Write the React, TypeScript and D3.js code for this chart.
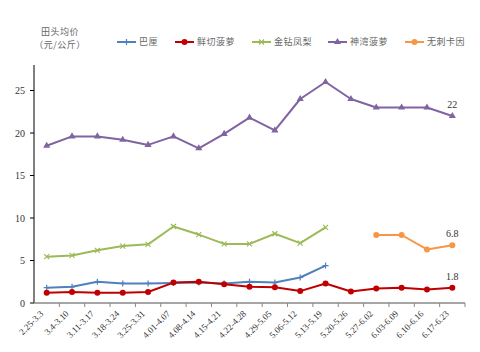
import React, { useRef, useEffect } from "react";
import * as d3 from "d3";

const width = 480;
const height = 352;

const categories = [
  "2.25-3.3", "3.4-3.10", "3.11-3.17", "3.18-3.24", "3.25-3.31", "4.01-4.07",
  "4.08-4.14", "4.15-4.21", "4.22-4.28", "4.29-5.05", "5.06-5.12", "5.13-5.19",
  "5.20-5.26", "5.27-6.02", "6.03-6.09", "6.10-6.16", "6.17-6.23",
];

const bali = [1.8, 1.9, 2.5, 2.3, 2.3, 2.35, 2.4, 2.3, 2.5, 2.4, 3.0, 4.4, null, null, null, null, null];
const freshCut = [1.2, 1.3, 1.2, 1.2, 1.3, 2.4, 2.5, 2.2, 1.9, 1.85, 1.4, 2.3, 1.35, 1.7, 1.8, 1.6, 1.8];
const golden = [5.45, 5.6, 6.2, 6.7, 6.9, 9.0, 8.05, 6.95, 6.95, 8.15, 7.05, 8.9, null, null, null, null, null];
const shenwan = [18.5, 19.6, 19.6, 19.2, 18.6, 19.6, 18.2, 19.9, 21.8, 20.3, 24.0, 26.0, 24.0, 23.0, 23.0, 23.0, 22.0];
const cayenne = [null, null, null, null, null, null, null, null, null, null, null, null, null, 8.0, 8.0, 6.3, 6.8];

const yTicks = [0, 5, 10, 15, 20, 25];

const series = [
  { name: "巴厘", values: bali, color: "#4f81bd", marker: "plus" },
  { name: "鲜切菠萝", values: freshCut, color: "#c00000", marker: "circle" },
  { name: "金钻凤梨", values: golden, color: "#9bbb59", marker: "cross" },
  { name: "神湾菠萝", values: shenwan, color: "#8064a2", marker: "triangle" },
  { name: "无刺卡因", values: cayenne, color: "#f79646", marker: "circle" },
];

const endLabels = [
  { values: shenwan, text: "22" },
  { values: cayenne, text: "6.8" },
  { values: freshCut, text: "1.8" },
];

const serif = "'Liberation Serif', 'DejaVu Serif', serif";
const cjk = "'Noto Sans CJK SC', sans-serif";

function drawMarker(g: any, type: string, cx: number, cy: number, color: string) {
  if (type === "circle") {
    g.append("circle").attr("cx", cx).attr("cy", cy).attr("r", 3).attr("fill", color);
  } else if (type === "triangle") {
    g.append("path")
      .attr("d", d3.symbol().type(d3.symbolTriangle).size(22)())
      .attr("transform", `translate(${cx},${cy})`)
      .attr("fill", color);
  } else if (type === "plus") {
    g.append("path")
      .attr("d", `M${cx - 3},${cy}H${cx + 3}M${cx},${cy - 3}V${cy + 3}`)
      .attr("stroke", color).attr("stroke-width", 1.2);
  } else {
    g.append("path")
      .attr("d", `M${cx - 2.5},${cy - 2.5}L${cx + 2.5},${cy + 2.5}M${cx - 2.5},${cy + 2.5}L${cx + 2.5},${cy - 2.5}`)
      .attr("stroke", color).attr("stroke-width", 1.2);
  }
}

export default function App() {
  const ref = useRef<SVGSVGElement | null>(null);

  useEffect(() => {
    const svg = d3.select(ref.current);
    svg.selectAll("*").remove();

    const left = 34, right = 465, top = 65, bottom = 303;

    const x = d3.scaleBand().domain(categories).range([left, right]);
    const y = d3.scaleLinear().domain([0, 28]).range([bottom, top]);
    const cx = (i: number) => x(categories[i])! + x.bandwidth() / 2;

    // y axis
    svg.append("line")
      .attr("x1", left).attr("x2", left).attr("y1", top).attr("y2", bottom)
      .attr("stroke", "#000").attr("stroke-width", 1);
    yTicks.forEach((t) => {
      svg.append("line")
        .attr("x1", left - 4).attr("x2", left).attr("y1", y(t)).attr("y2", y(t))
        .attr("stroke", "#000");
      svg.append("text")
        .attr("x", left - 9).attr("y", y(t)).attr("dy", "0.35em")
        .attr("text-anchor", "end").attr("font-family", serif).attr("font-size", 10)
        .attr("fill", "#333").text(t);
    });

    // x axis
    svg.append("line")
      .attr("x1", left).attr("x2", right).attr("y1", bottom).attr("y2", bottom)
      .attr("stroke", "#888").attr("stroke-width", 1.5);
    categories.forEach((c, i) => {
      const bx = x(c)!;
      svg.append("line")
        .attr("x1", bx + x.bandwidth()).attr("x2", bx + x.bandwidth())
        .attr("y1", bottom).attr("y2", bottom + 4).attr("stroke", "#888");
      svg.append("text")
        .attr("transform", `translate(${cx(i) - 5},${bottom + 9}) rotate(-45)`)
        .attr("text-anchor", "end").attr("dy", "0.35em")
        .attr("font-family", serif).attr("font-size", 9).attr("fill", "#333")
        .text(c);
    });

    // lines
    series.forEach((s) => {
      const pts = s.values.map((v, i) => ({ v, i }));
      const line = d3.line<{ v: number | null; i: number }>()
        .defined((d) => d.v != null)
        .x((d) => cx(d.i))
        .y((d) => y(d.v as number));
      svg.append("path").datum(pts).attr("d", line)
        .attr("fill", "none").attr("stroke", s.color).attr("stroke-width", 2)
        .attr("stroke-linejoin", "round");
      const g = svg.append("g");
      pts.filter((d) => d.v != null).forEach((d) => drawMarker(g, s.marker, cx(d.i), y(d.v as number), s.color));
    });

    // end labels
    endLabels.forEach((l) => {
      const i = l.values.length - 1;
      svg.append("text")
        .attr("x", cx(i)).attr("y", y(l.values[i] as number) - 8)
        .attr("text-anchor", "middle").attr("font-family", serif).attr("font-size", 10)
        .attr("fill", "#333").text(l.text);
    });

    // y title
    svg.append("text").attr("x", 60).attr("y", 35).attr("text-anchor", "middle")
      .attr("font-family", cjk).attr("font-size", 9).attr("letter-spacing", 0.5)
      .attr("fill", "#666").text("田头均价");
    svg.append("text").attr("x", 60).attr("y", 48).attr("text-anchor", "middle")
      .attr("font-family", cjk).attr("font-size", 9).attr("letter-spacing", 0.5)
      .attr("fill", "#666").text("（元/公斤）");

    // legend
    const legendX = [117, 175, 252, 328, 405];
    series.forEach((s, k) => {
      const lx = legendX[k], ly = 42;
      svg.append("line").attr("x1", lx).attr("x2", lx + 19).attr("y1", ly).attr("y2", ly)
        .attr("stroke", s.color).attr("stroke-width", 2);
      drawMarker(svg, s.marker, lx + 9.5, ly, s.color);
      svg.append("text").attr("x", lx + 22).attr("y", ly).attr("dy", "0.35em")
        .attr("font-family", cjk).attr("font-size", 9).attr("letter-spacing", 0.5)
        .attr("fill", "#666").text(s.name);
    });
  }, []);

  return <svg ref={ref} width={width} height={height} style={{ position: "absolute", left: 0, top: 0 }} />;
}
